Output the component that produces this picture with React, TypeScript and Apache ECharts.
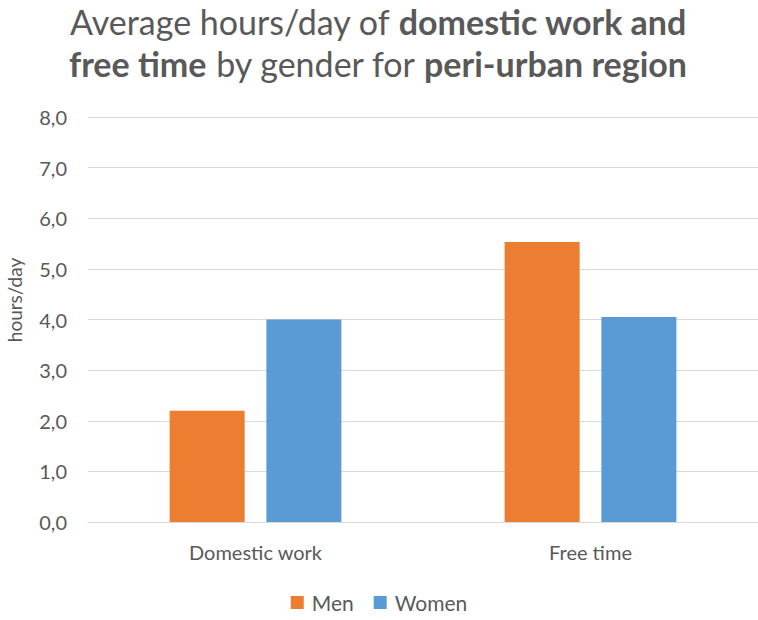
import React, { useEffect, useRef } from "react";
import * as echarts from "echarts";

const categories = ["Domestic work", "Free time"];
const menValues = [2.2, 5.53];
const womenValues = [4.0, 4.05];
const yMin = 0;
const yMax = 8;
const yInterval = 1;

export default function App() {
  const ref = useRef<HTMLDivElement>(null);
  useEffect(() => {
    if (!ref.current) return;
    const chart = echarts.init(ref.current, undefined, { renderer: "svg" });
    const txt = "#595959";
    const font = "Lato";
    chart.setOption({
      animation: false,
      backgroundColor: "#ffffff",
      textStyle: { fontFamily: font },
      graphic: [
        {
          type: "text",
          x: 378,
          y: 0,
          style: {
            text: "{n|Average hours/day of }{b|domestic work and}\n{b|free time}{n| by gender for }{b|peri-urban region}",
            align: "center",
            verticalAlign: "top",
            rich: {
              n: { fontSize: 34, fontFamily: font, fill: txt, fontWeight: "normal", lineHeight: 42 },
              b: { fontSize: 34, fontFamily: font, fill: txt, fontWeight: "bold", lineHeight: 42 },
            },
          },
        },
        {
          type: "text",
          x: 14,
          y: 300,
          rotation: Math.PI / 2,
          style: {
            text: "hours/day",
            fill: txt,
            fontSize: 19,
            fontFamily: font,
            align: "center",
            verticalAlign: "middle",
          },
        },
      ],
      legend: {
        bottom: 2,
        left: "center",
        itemWidth: 13,
        itemHeight: 13,
        itemGap: 20,
        icon: "rect",
        textStyle: { color: txt, fontSize: 21, fontFamily: font, padding: [0, 0, 0, 3] },
        data: ["Men", "Women"],
      },
      grid: { left: 88, right: 0, top: 117, bottom: 98, containLabel: false },
      xAxis: {
        type: "category",
        data: categories,
        axisLine: { lineStyle: { color: "#D9D9D9", width: 1 } },
        axisTick: { show: false },
        axisLabel: { color: txt, fontSize: 20, fontFamily: font, margin: 20 },
      },
      yAxis: {
        type: "value",
        min: yMin,
        max: yMax,
        interval: yInterval,
        axisLine: { show: false },
        axisTick: { show: false },
        splitLine: { lineStyle: { color: "#D9D9D9", width: 1 } },
        axisLabel: {
          color: txt,
          fontSize: 20,
          fontFamily: font,
          margin: 21,
          formatter: (v: number) => v.toFixed(1).replace(".", ","),
        },
      },
      series: [
        {
          name: "Men",
          type: "bar",
          data: menValues,
          barWidth: 75,
          barGap: "29%",
          itemStyle: { color: "#ED7D31" },
        },
        {
          name: "Women",
          type: "bar",
          data: womenValues,
          barWidth: 75,
          barGap: "29%",
          itemStyle: { color: "#5B9BD5" },
        },
      ],
    });
    return () => chart.dispose();
  }, []);
  return (
    <div
      ref={ref}
      style={{ position: "fixed", left: 0, top: 0, width: 758, height: 620 }}
    />
  );
}
